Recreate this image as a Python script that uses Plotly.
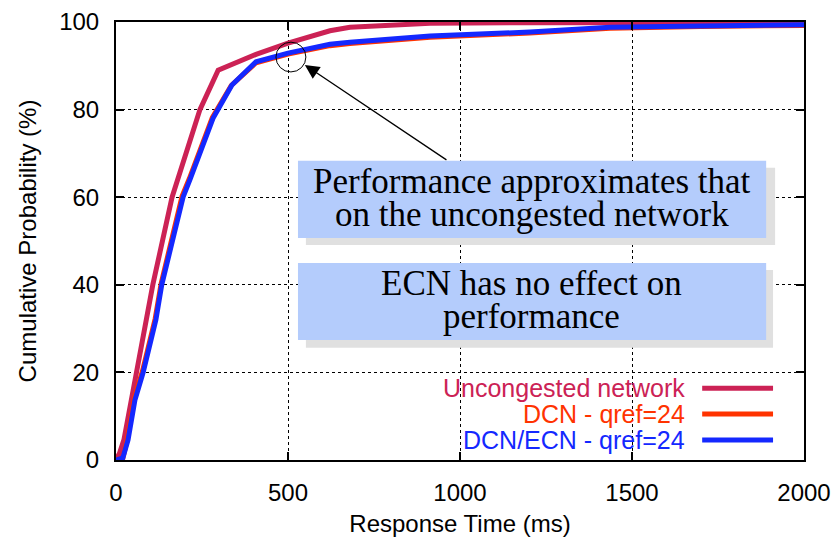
import plotly.graph_objects as go

# ---- data ----
series_names = ["Uncongested network", "DCN - qref=24", "DCN/ECN - qref=24"]
series_colors = ["#CC2255", "#FF3300", "#1428FF"]

x_uncongested = [0, 10, 23, 45, 62, 90, 107, 163, 244, 297, 407, 500, 622, 680, 800, 913, 1200, 1500, 2000]
y_uncongested = [0, 1.5, 4.6, 14, 20, 32, 40, 60, 80, 89, 92.6, 95.2, 98.0, 98.8, 99.4, 99.7, 99.85, 99.9, 99.9]

x_dcn = [0, 20, 33, 53, 77, 114, 131, 192, 213, 280, 335, 407, 500, 622, 680, 913, 1203, 1436, 1700, 2000]
y_dcn = [0, 0.4, 4.8, 14.0, 20.3, 32.3, 40.2, 60.2, 64.2, 78.2, 85.5, 90.7, 92.7, 94.6, 95.1, 96.5, 97.5, 98.6, 99.0, 99.2]

x_dcn_ecn = [0, 20, 35, 55, 79, 116, 133, 195, 215, 282, 337, 407, 500, 622, 680, 913, 1203, 1436, 1700, 2000]
y_dcn_ecn = [0, 0.5, 4.6, 13.7, 20, 32, 40, 60, 64, 78, 85.6, 90.9, 92.9, 94.9, 95.4, 96.8, 97.7, 98.8, 99.1, 99.4]

x_ticks = [0, 500, 1000, 1500, 2000]
y_ticks = [0, 20, 40, 60, 80, 100]

note1_lines = ["Performance approximates that", "on the uncongested network"]
note2_lines = ["ECN has no effect on", "performance"]

SANS = "Liberation Sans, Arial, Helvetica, sans-serif"
SERIF = "Liberation Serif, Times New Roman, serif"

fig = go.Figure()
for xs, ys, name, col in [
    (x_uncongested, y_uncongested, series_names[0], series_colors[0]),
    (x_dcn, y_dcn, series_names[1], series_colors[1]),
    (x_dcn_ecn, y_dcn_ecn, series_names[2], series_colors[2]),
]:
    fig.add_trace(go.Scatter(x=xs, y=ys, mode="lines", name=name,
                             line=dict(color=col, width=5), showlegend=False))

axis_common = dict(
    showline=True, linecolor="black", linewidth=2, mirror="ticks",
    ticks="inside", ticklen=8, tickwidth=2, tickcolor="black",
    showgrid=True, gridcolor="black", gridwidth=1, griddash="dot",
    zeroline=False, tickfont=dict(family=SANS, size=24, color="black"),
    ticklabelstandoff=10, automargin=False,
)

fig.update_layout(
    width=833, height=539,
    margin=dict(l=116, r=29, t=22, b=79),
    paper_bgcolor="white", plot_bgcolor="white",
    xaxis=dict(range=[0, 2000], tickvals=x_ticks, **axis_common,
               title=dict(text="Response Time (ms)", font=dict(family=SANS, size=24, color="black"), standoff=10)),
    yaxis=dict(range=[0, 100], tickvals=y_ticks, **axis_common,
               title=dict(text="Cumulative Probability (%)", font=dict(family=SANS, size=24, color="black"), standoff=16)),
)

shapes = []
# shadows and boxes
for (x0, x1, y0, y1, col) in [
    (552, 1916, 49.1, 66.7, "#E0E0E0"),
    (529, 1890, 50.7, 68.3, "#B4CCFC"),
    (552, 1910, 25.6, 43.4, "#E0E0E0"),
    (529, 1890, 27.4, 45.0, "#B4CCFC"),
]:
    shapes.append(dict(type="rect", xref="x", yref="y", x0=x0, x1=x1, y0=y0, y1=y1,
                       fillcolor=col, line=dict(width=0), layer="above"))
# circle highlight
shapes.append(dict(type="circle", xref="x", yref="y", x0=465, x1=552, y0=88.6, y1=95.4,
                   line=dict(color="black", width=1), fillcolor="rgba(0,0,0,0)", layer="above"))

# custom legend (text right, line sample to the right)
legend_rows = [0.164, 0.105, 0.0457]
annotations = []
for name, col, yy in zip(series_names, series_colors, legend_rows):
    annotations.append(dict(xref="paper", yref="paper", x=0.830, y=yy, text=name, showarrow=False,
                            xanchor="right", yanchor="middle",
                            font=dict(family=SANS, size=25, color=col)))
    shapes.append(dict(type="line", xref="paper", yref="paper", x0=0.852, x1=0.955, y0=yy, y1=yy,
                       line=dict(color=col, width=5), layer="above"))

for txt, yy in zip(note1_lines + note2_lines, [63.6, 56.1, 40.3, 32.8]):
    annotations.append(dict(xref="x", yref="y", x=1209, y=yy, text=txt, showarrow=False,
                            xanchor="center", yanchor="middle",
                            font=dict(family=SERIF, size=35, color="black")))

# arrow
annotations.append(dict(xref="x", yref="y", x=549, y=90.2, axref="x", ayref="y", ax=965, ay=68.3,
                        text="", showarrow=True, arrowhead=2, arrowsize=2.2, arrowwidth=1.3,
                        arrowcolor="black", standoff=0))

fig.update_layout(shapes=shapes, annotations=annotations)
fig.write_html("out.html")
